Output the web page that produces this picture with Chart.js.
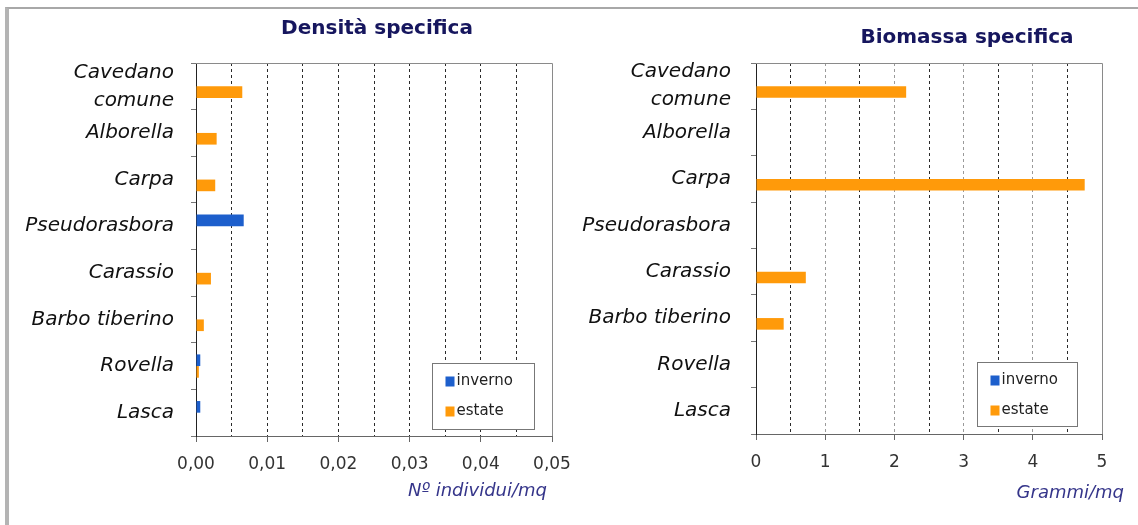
<!DOCTYPE html>
<html>
<head>
<meta charset="utf-8">
<script src="https://cdn.jsdelivr.net/npm/chart.js@4.4.0/dist/chart.umd.min.js"></script>
<style>
  html, body { margin: 0; padding: 0; background: #fff; }
  #wrap { position: relative; width: 1138px; height: 525px; overflow: hidden; background: #fff; }
  #frame { position: absolute; left: 5px; top: 7px; right: -4px; bottom: -4px;
           border-top: 2px solid #a8a8a8; border-left: 4px solid #b4b4b4; }
  canvas { position: absolute; top: 0; }
  #density { left: 0; }
  #biomass { left: 570px; }
</style>
</head>
<body>
<div id="wrap">
  <div id="frame"></div>
  <canvas id="density" width="570" height="525"></canvas>
  <canvas id="biomass" width="568" height="525"></canvas>
</div>
<script>
// Species (top to bottom) and the two sampling seasons
const species = [['Cavedano', 'comune'], 'Alborella', 'Carpa', 'Pseudorasbora',
                 'Carassio', 'Barbo tiberino', 'Rovella', 'Lasca'];
const seasons = ['inverno', 'estate'];

// Specific density, individuals per square metre
const densityInverno = [0, 0, 0, 0.0067, 0, 0, 0.0006, 0.0006];
const densityEstate  = [0.0065, 0.0029, 0.0027, 0, 0.0021, 0.0011, 0.0004, 0];

// Specific biomass, grams per square metre
const biomassInverno = [0, 0, 0, 0, 0, 0, 0, 0];
const biomassEstate  = [2.17, 0, 4.75, 0, 0.72, 0.40, 0, 0];

// Axis tick labels (one every second grid line)
const densityTicks = ['0,00', '0,01', '0,02', '0,03', '0,04', '0,05'];
const biomassTicks = ['0', '1', '2', '3', '4', '5'];

const seasonColors = ['#1d5fcc', '#ff9a0a'];
const FONT = '"DejaVu Sans", Verdana, sans-serif';

// Titles, plot frame and the boxed legend inside the plot area
function decorations(opts) {
  return {
    id: 'decorations',
    afterDraw(chart) {
      const ctx = chart.ctx;
      const a = chart.chartArea;
      ctx.save();
      // top and right edge of the plot area
      ctx.strokeStyle = '#8a8a8a';
      ctx.lineWidth = 1;
      ctx.beginPath();
      ctx.moveTo(a.left, a.top + 0.5);
      ctx.lineTo(a.right + 0.5, a.top + 0.5);
      ctx.lineTo(a.right + 0.5, a.bottom);
      ctx.stroke();

      // chart title
      ctx.fillStyle = '#16165e';
      ctx.font = 'bold 20px ' + FONT;
      ctx.textAlign = 'center';
      ctx.textBaseline = 'middle';
      ctx.fillText(opts.title, opts.titleX, opts.titleY);

      // value axis title
      ctx.fillStyle = '#35358a';
      ctx.font = 'italic 18px ' + FONT;
      ctx.textAlign = 'right';
      ctx.fillText(opts.axisTitle, opts.axisTitleX, opts.axisTitleY);

      // legend box
      const bw = opts.legendW, bh = opts.legendH;
      const bx = Math.round(a.right - opts.legendRight - bw) + 0.5;
      const by = Math.round(a.bottom - opts.legendBottom - bh) + 0.5;
      ctx.fillStyle = '#fff';
      ctx.fillRect(bx, by, bw, bh);
      ctx.strokeStyle = '#777';
      ctx.strokeRect(bx, by, bw, bh);
      ctx.font = '15px ' + FONT;
      ctx.textAlign = 'left';
      chart.data.datasets.forEach((ds, i) => {
        const rowY = by + 18 + i * 30;
        ctx.fillStyle = ds.backgroundColor;
        ctx.fillRect(bx + 13, rowY - 5, 9, 10);
        ctx.fillStyle = '#222';
        ctx.fillText(ds.label, bx + 24, rowY);
      });
      ctx.restore();
    }
  };
}

function makeChart(id, cfg) {
  const labelEvery = cfg.labelEvery;
  return new Chart(document.getElementById(id), {
    type: 'bar',
    data: {
      labels: species,
      datasets: [
        { label: seasons[0], data: cfg.inverno, backgroundColor: seasonColors[0] },
        { label: seasons[1], data: cfg.estate, backgroundColor: seasonColors[1] }
      ]
    },
    options: {
      indexAxis: 'y',
      responsive: false,
      animation: false,
      devicePixelRatio: 1,
      categoryPercentage: 0.5,
      barPercentage: 1.0,
      layout: { autoPadding: false, padding: { top: 63, right: cfg.padRight, bottom: 0, left: 0 } },
      plugins: { legend: { display: false }, title: { display: false }, tooltip: { enabled: false } },
      scales: {
        x: {
          type: 'linear',
          min: 0,
          max: cfg.max,
          afterFit(scale) {
            scale.height = cfg.xHeight;
            scale.paddingLeft = 0;
            scale.paddingRight = 0;
          },
          ticks: {
            stepSize: cfg.step,
            autoSkip: false,
            maxRotation: 0,
            minRotation: 0,
            padding: 12,
            color: '#333',
            font: { family: FONT, size: 17 },
            callback: (v, i) => (i % labelEvery === 0 ? cfg.tickLabels[i / labelEvery] : '')
          },
          grid: {
            drawTicks: true,
            tickLength: 6,
            color: (c) => {
              const i = c.index;
              if (i === 0 || i === cfg.tickCount - 1) return 'rgba(0,0,0,0)';
              return cfg.gridColor(i);
            },
            tickColor: (c) => (c.index % labelEvery === 0 ? '#666' : 'rgba(0,0,0,0)'),
            tickBorderDash: []
          },
          border: { display: true, color: '#666', width: 1, dash: [3, 3] }
        },
        y: {
          afterFit(scale) { scale.width = cfg.yWidth; },
          ticks: {
            autoSkip: false,
            padding: cfg.yPad,
            color: '#111',
            font: { family: FONT, size: 20, style: 'italic', lineHeight: 1.4 }
          },
          grid: {
            drawOnChartArea: false,
            drawTicks: true,
            tickLength: 5,
            tickColor: '#777'
          },
          border: { display: true, color: '#222', width: 1 }
        }
      }
    },
    plugins: [decorations(cfg.deco)]
  });
}

makeChart('density', {
  inverno: densityInverno,
  estate: densityEstate,
  max: 0.05,
  step: 0.005,
  tickCount: 11,
  labelEvery: 2,
  tickLabels: densityTicks,
  gridColor: () => '#2a2a2a',
  padRight: 18,
  xHeight: 89,
  yWidth: 196,
  yPad: 17,
  deco: {
    title: 'Densità specifica', titleX: 377, titleY: 29,
    axisTitle: 'Nº individui/mq', axisTitleX: 547, axisTitleY: 491,
    legendW: 102, legendH: 66, legendRight: 18, legendBottom: 7
  }
});

makeChart('biomass', {
  inverno: biomassInverno,
  estate: biomassEstate,
  max: 5,
  step: 0.5,
  tickCount: 11,
  labelEvery: 2,
  tickLabels: biomassTicks,
  gridColor: (i) => (i % 2 === 0 ? '#9a9a9a' : '#2a2a2a'),
  padRight: 36,
  xHeight: 91,
  yWidth: 186,
  yPad: 20,
  deco: {
    title: 'Biomassa specifica', titleX: 397, titleY: 38,
    axisTitle: 'Grammi/mq', axisTitleX: 554, axisTitleY: 493,
    legendW: 100, legendH: 64, legendRight: 25, legendBottom: 8
  }
});
</script>
</body>
</html>
